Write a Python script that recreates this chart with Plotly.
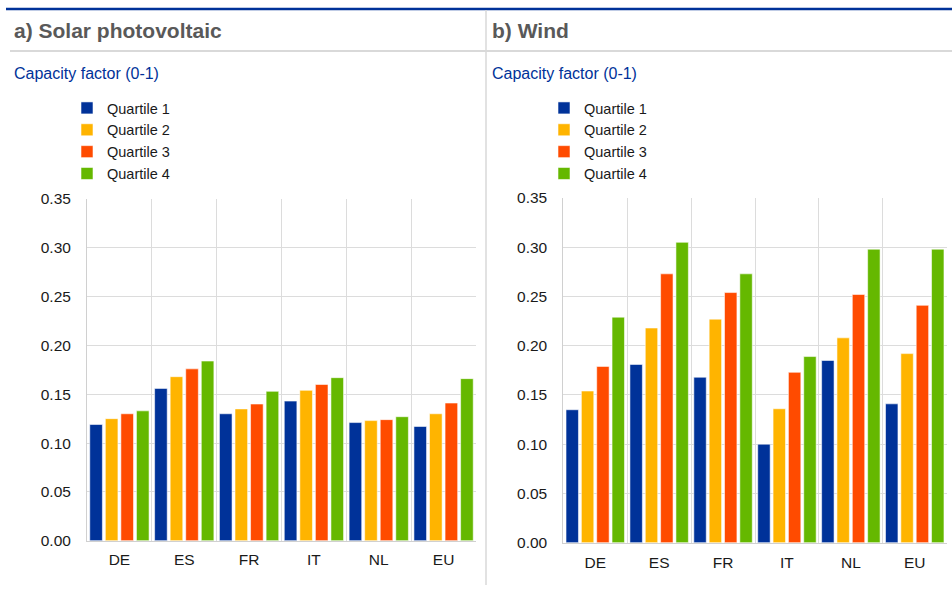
import plotly.graph_objects as go

# Capacity factors by country and quartile
countries = ["DE", "ES", "FR", "IT", "NL", "EU"]
quartiles = ["Quartile 1", "Quartile 2", "Quartile 3", "Quartile 4"]

solar_q1 = [0.119, 0.156, 0.130, 0.143, 0.121, 0.117]
solar_q2 = [0.125, 0.168, 0.135, 0.154, 0.123, 0.130]
solar_q3 = [0.130, 0.176, 0.140, 0.160, 0.124, 0.141]
solar_q4 = [0.133, 0.184, 0.153, 0.167, 0.127, 0.166]

wind_q1 = [0.135, 0.181, 0.168, 0.100, 0.185, 0.141]
wind_q2 = [0.154, 0.218, 0.227, 0.136, 0.208, 0.192]
wind_q3 = [0.179, 0.273, 0.254, 0.173, 0.252, 0.241]
wind_q4 = [0.229, 0.305, 0.273, 0.189, 0.298, 0.298]

y_ticks = [0.00, 0.05, 0.10, 0.15, 0.20, 0.25, 0.30, 0.35]

colors = ["#003299", "#FFB400", "#FF4B00", "#65B800"]

W, H = 952, 593
FONT = "Arial, Liberation Sans, sans-serif"


def px(x):
    return x / W


def py(y):
    return 1 - y / H


fig = go.Figure()

panels = [
    ("x", "y", "legend", [solar_q1, solar_q2, solar_q3, solar_q4]),
    ("x2", "y2", "legend2", [wind_q1, wind_q2, wind_q3, wind_q4]),
]
for xa, ya, lg, series in panels:
    for name, vals, col in zip(quartiles, series, colors):
        fig.add_trace(go.Bar(
            x=countries, y=vals, name=name, xaxis=xa, yaxis=ya, legend=lg,
            marker=dict(color=col, line=dict(color="rgba(255,255,255,0.55)", width=1)),
            hoverinfo="x+y+name",
        ))

axis_common = dict(
    showline=True, linecolor="#d0d0d0", linewidth=1,
    gridcolor="#dcdcdc", gridwidth=1,
    tickfont=dict(family=FONT, size=15.5, color="#1a1a1a"),
)

legend_common = dict(
    xanchor="left", yanchor="top",
    font=dict(family=FONT, size=14.5, color="#1a1a1a"),
    traceorder="normal", bgcolor="rgba(0,0,0,0)",
)

fig.update_layout(
    width=W, height=H,
    margin=dict(l=0, r=0, t=0, b=0, autoexpand=False),
    paper_bgcolor="white", plot_bgcolor="white",
    barmode="group", bargap=0.04, bargroupgap=0.19,
    font=dict(family=FONT),
    xaxis=dict(domain=[px(87), px(476)], type="category", tickson="boundaries",
               showgrid=True, ticks="", ticklabelstandoff=5, anchor="y", **axis_common),
    yaxis=dict(domain=[py(540.7), py(199)], range=[0, 0.35], tickvals=y_ticks,
               tickformat=".2f", showgrid=True, ticks="", ticklabelstandoff=12,
               zeroline=False, anchor="x", **axis_common),
    xaxis2=dict(domain=[px(563.3), px(946.7)], type="category", tickson="boundaries",
                showgrid=True, ticks="", ticklabelstandoff=6, anchor="y2", **axis_common),
    yaxis2=dict(domain=[py(542.7), py(198)], range=[0, 0.35], tickvals=y_ticks,
                tickformat=".2f", showgrid=True, ticks="", ticklabelstandoff=12,
                zeroline=False, anchor="x2", **axis_common),
    legend=dict(x=px(67), y=py(92), **legend_common),
    legend2=dict(x=px(544), y=py(92), **legend_common),
    showlegend=True,
)

# Header rules and panel separator
fig.add_shape(type="line", xref="paper", yref="paper", x0=px(6), x1=1, y0=py(9), y1=py(9),
              line=dict(color="#003299", width=2.5))
fig.add_shape(type="line", xref="paper", yref="paper", x0=px(10), x1=1, y0=py(51), y1=py(51),
              line=dict(color="#d9d9d9", width=2))
fig.add_shape(type="line", xref="paper", yref="paper", x0=px(486), x1=px(486), y0=py(10), y1=py(585),
              line=dict(color="#d9d9d9", width=1.5))

# Panel titles and unit labels
for x0, title in [(13, "a) Solar photovoltaic"), (491, "b) Wind")]:
    fig.add_annotation(text="<b>" + title + "</b>", xref="paper", yref="paper",
                       x=px(x0 - 1), y=py(30), xanchor="left", yanchor="middle", showarrow=False,
                       font=dict(family=FONT, size=21, color="#595959"))
    fig.add_annotation(text="Capacity factor (0-1)", xref="paper", yref="paper",
                       x=px(x0 - 1), y=py(73), xanchor="left", yanchor="middle", showarrow=False,
                       font=dict(family=FONT, size=16, color="#003299"))

fig.write_html("out.html")
